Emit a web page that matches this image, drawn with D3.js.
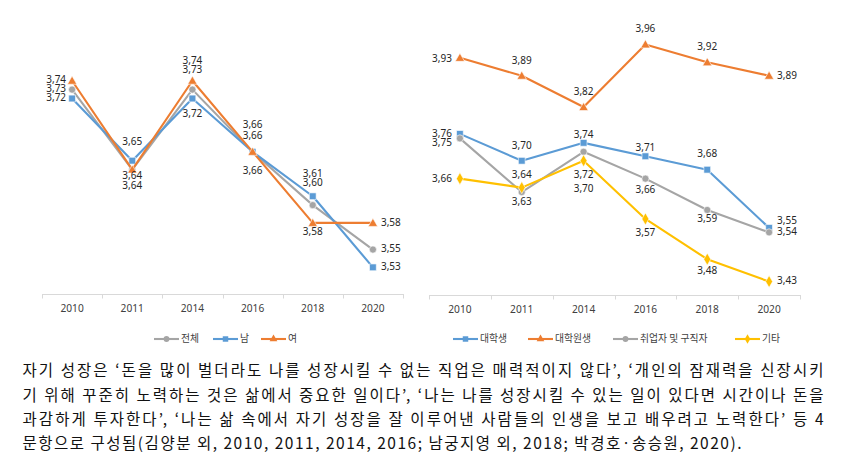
<!DOCTYPE html>
<html>
<head>
<meta charset="utf-8">
<script src="https://cdn.jsdelivr.net/npm/d3@7"></script>
<style>
  html, body { margin: 0; padding: 0; background: #fff; }
  svg { display: block; }
</style>
</head>
<body>
<svg id="chart" width="847" height="470"></svg>
<script>
// ---------------- DATA ----------------
const years = ["2010", "2011", "2014", "2016", "2018", "2020"];

const leftNames = ["전체", "남", "여"];
const leftTotal = [3.73, 3.64, 3.73, 3.66, 3.60, 3.55];
const leftMale = [3.72, 3.65, 3.72, 3.66, 3.61, 3.53];
const leftFemale = [3.74, 3.64, 3.74, 3.66, 3.58, 3.58];

const rightNames = ["대학생", "대학원생", "취업자 및 구직자", "기타"];
const rightUndergrad = [3.76, 3.70, 3.74, 3.71, 3.68, 3.55];
const rightGrad = [3.93, 3.89, 3.82, 3.96, 3.92, 3.89];
const rightWorker = [3.75, 3.63, 3.72, 3.66, 3.59, 3.54];
const rightOther = [3.66, 3.64, 3.70, 3.57, 3.48, 3.43];

const captionLines = [
  "자기 성장은 ‘돈을 많이 벌더라도 나를 성장시킬 수 없는 직업은 매력적이지 않다’, ‘개인의 잠재력을 신장시키",
  "기 위해 꾸준히 노력하는 것은 삶에서 중요한 일이다’, ‘나는 나를 성장시킬 수 있는 일이 있다면 시간이나 돈을",
  "과감하게 투자한다’, ‘나는 삶 속에서 자기 성장을 잘 이루어낸 사람들의 인생을 보고 배우려고 노력한다’ 등 4",
  "문항으로 구성됨(김양분 외, 2010, 2011, 2014, 2016; 남궁지영 외, 2018; 박경호·송승원, 2020)."
];

// ---------------- LAYOUT / STYLE ----------------
const COLORS = { blue: "#5b9bd5", orange: "#ed7d31", gray: "#a5a5a5", yellow: "#ffc000" };
const NUMFONT = "'Noto Sans', 'Open Sans', sans-serif";
const KRFONT = "'Noto Sans CJK KR', 'Noto Sans', sans-serif";

// label offsets [dx, dy] relative to each point (layout only)
const offTotal = [[-6, 0], [0, 17], [0, -19], [0, -16], [0, -22], [8, 0]];
const offMale = [[-6, 0], [0, -18], [0, 15.5], [0, -27], [0, -22], [8, 0]];
const offFemale = [[-6, 0], [0, 7], [0, -19], [0, 19], [0, 9], [8, 0]];

const offUndergrad = [[-8, 0.5], [0, -14.6], [0, -8], [0, -7.5], [0, -15], [8, -6.7]];
const offGrad = [[-8, 1], [0, -14.5], [0, -15], [0, -15], [0, -14.5], [8, 1]];
const offWorker = [[-8, 5.4], [0, 10.7], [0, 23.4], [0, 11.5], [0, 9.5], [8, 0.4]];
const offOther = [[-8, 0.8], [0, -12.4], [0, 28.7], [0, 14], [0, 12], [8, 0.2]];

const svg = d3.select("#chart");
const fmt = v => d3.format(".2f")(v).replace(".", ",");

function symbolFor(kind) {
  if (kind === "square") return d3.symbol().type(d3.symbolSquare).size(46);
  if (kind === "triangle") return d3.symbol().type(d3.symbolTriangle).size(38);
  if (kind === "diamond") return d3.symbol().type(d3.symbolDiamond).size(42);
  return d3.symbol().type(d3.symbolCircle).size(40);
}

function drawPanel(cfg) {
  const g = svg.append("g");
  const x = d3.scaleBand().domain(years).range(cfg.xRange).paddingInner(0).paddingOuter(0);
  const cx = d => x(d) + x.bandwidth() / 2;
  const y = d3.scaleLinear().domain(cfg.yDomain).range(cfg.yRange);

  // axis line + ticks (between categories)
  const axisY = cfg.yRange[0];
  g.append("line")
    .attr("x1", cfg.xRange[0]).attr("x2", cfg.xRange[1])
    .attr("y1", axisY + 0.5).attr("y2", axisY + 0.5)
    .attr("stroke", "#d9d9d9").attr("stroke-width", 1);
  const tickXs = years.map(d => x(d)).concat([cfg.xRange[1]]);
  g.selectAll(".tick").data(tickXs).enter().append("line")
    .attr("x1", d => Math.round(d) + 0.5).attr("x2", d => Math.round(d) + 0.5)
    .attr("y1", axisY).attr("y2", axisY + 4.5)
    .attr("stroke", "#d9d9d9").attr("stroke-width", 1);
  g.selectAll(".tlab").data(years).enter().append("text")
    .attr("x", cx).attr("y", axisY + 15)
    .attr("text-anchor", "middle").attr("dominant-baseline", "middle")
    .attr("font-family", NUMFONT).attr("font-size", "10.2px").attr("fill", "#404040")
    .text(d => d);

  const line = d3.line().x((v, i) => cx(years[i])).y(v => y(v));

  cfg.series.forEach(s => {
    g.append("path").datum(s.values)
      .attr("d", line).attr("fill", "none")
      .attr("stroke", s.color).attr("stroke-width", 2.1)
      .attr("stroke-linejoin", "round");
    g.selectAll(null).data(s.values).enter().append("path")
      .attr("d", symbolFor(s.marker))
      .attr("transform", (v, i) => `translate(${cx(years[i])},${y(v) + (s.marker === "triangle" ? 0.8 : 0)})`)
      .attr("fill", s.color).attr("stroke", "#fff").attr("stroke-width", 0.6);
  });

  // labels on top
  cfg.series.forEach(s => {
    g.selectAll(null).data(s.values).enter().append("text")
      .attr("x", (v, i) => cx(years[i]) + s.off[i][0])
      .attr("y", (v, i) => y(v) + s.off[i][1])
      .attr("text-anchor", (v, i) => s.off[i][0] < 0 ? "end" : (s.off[i][0] > 0 ? "start" : "middle"))
      .attr("dominant-baseline", "middle")
      .attr("font-family", NUMFONT).attr("font-size", "10px").attr("fill", "#262626")
      .text(v => fmt(v));
  });

  // legend
  const lg = g.append("g");
  cfg.legend.forEach(item => {
    const s = cfg.series.find(q => q.name === item.name);
    const ly = cfg.legendY;
    lg.append("line").attr("x1", item.x).attr("x2", item.x + 25)
      .attr("y1", ly).attr("y2", ly)
      .attr("stroke", s.color).attr("stroke-width", 2.1);
    lg.append("path").attr("d", symbolFor(s.marker).size(s.marker === "square" ? 30 : 26))
      .attr("transform", `translate(${item.x + 12.5},${ly})`)
      .attr("fill", s.color);
    lg.append("text").attr("x", item.x + 27).attr("y", ly)
      .attr("dominant-baseline", "middle")
      .attr("font-family", KRFONT).attr("font-size", "9.8px").attr("fill", "#404040")
      .text(item.name);
  });
}

drawPanel({
  xRange: [42, 403], yDomain: [3.5, 3.8], yRange: [294, 27.4], legendY: 339,
  series: [
    { name: leftNames[0], values: leftTotal, color: COLORS.gray, marker: "circle", off: offTotal },
    { name: leftNames[1], values: leftMale, color: COLORS.blue, marker: "square", off: offMale },
    { name: leftNames[2], values: leftFemale, color: COLORS.orange, marker: "triangle", off: offFemale }
  ],
  legend: [{ name: leftNames[0], x: 154 }, { name: leftNames[1], x: 213 }, { name: leftNames[2], x: 261 }]
});

drawPanel({
  xRange: [429, 800], yDomain: [3.4, 4.0], yRange: [295, 26.5], legendY: 339,
  series: [
    { name: rightNames[0], values: rightUndergrad, color: COLORS.blue, marker: "square", off: offUndergrad },
    { name: rightNames[1], values: rightGrad, color: COLORS.orange, marker: "triangle", off: offGrad },
    { name: rightNames[2], values: rightWorker, color: COLORS.gray, marker: "circle", off: offWorker },
    { name: rightNames[3], values: rightOther, color: COLORS.yellow, marker: "diamond", off: offOther }
  ],
  legend: [{ name: rightNames[0], x: 453 }, { name: rightNames[1], x: 528 }, { name: rightNames[2], x: 613 }, { name: rightNames[3], x: 735 }]
});

// caption
const cap = svg.append("g");
const capYs = [372, 396.5, 420.5, 444.5];
captionLines.forEach((t, i) => {
  cap.append("text")
    .attr("x", 22.5).attr("y", capYs[i])
    .attr("dominant-baseline", "middle")
    .attr("font-family", KRFONT).attr("font-size", "15.5px").attr("fill", "#111")
    .attr("textLength", i < 3 ? 801 : 719)
    .attr("lengthAdjust", "spacing")
    .text(t);
});
</script>
</body>
</html>
